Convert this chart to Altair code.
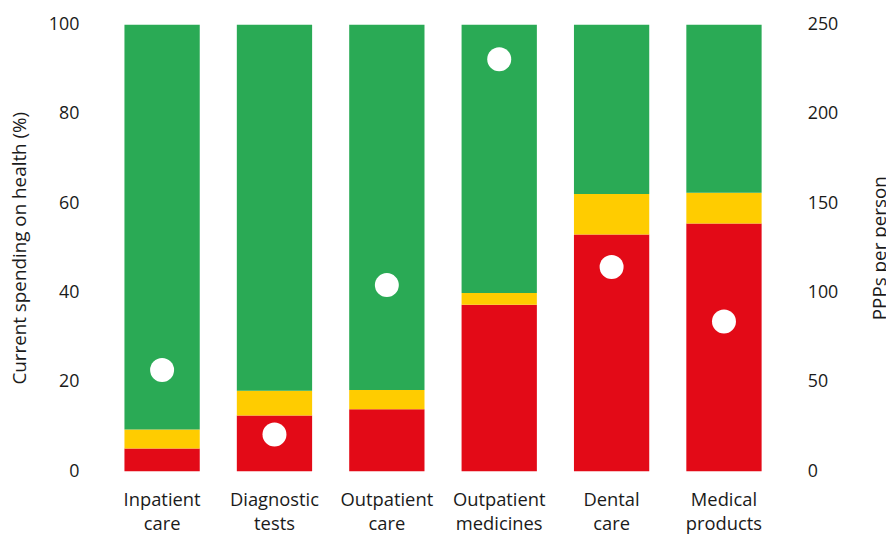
import altair as alt
import pandas as pd

categories = ["Inpatient care", "Diagnostic tests", "Outpatient care",
              "Outpatient medicines", "Dental care", "Medical products"]
red_share = [5.1, 12.45, 13.9, 37.3, 53.0, 55.5]
yellow_share = [4.25, 5.55, 4.3, 2.6, 9.1, 6.85]
green_share = [90.65, 82.0, 81.8, 60.1, 37.9, 37.65]
ppp_per_person = [56.7, 20.5, 104.2, 230.7, 114.3, 83.8]

components = ["red", "yellow", "green"]
colors = ["#E30A17", "#FFCC00", "#2AAA55"]

rows = []
for i, c in enumerate(categories):
    for k, (comp, vals) in enumerate(zip(components, [red_share, yellow_share, green_share])):
        rows.append({"category": c, "component": comp, "value": vals[i], "ord": k})
bars_df = pd.DataFrame(rows)
dots_df = pd.DataFrame({"category": categories, "ppp": ppp_per_person})

FONT = "Open Sans"
TXT = "#1a1a1a"

x_enc = alt.X(
    "category:N", sort=categories, title=None,
    scale=alt.Scale(paddingInner=0.33, paddingOuter=0.2294),
    axis=alt.Axis(labelAngle=0, ticks=False, domain=False, labelPadding=35,
                  labelBaseline="alphabetic", labelLineHeight=24,
                  labelExpr="split(datum.label, ' ')", labelFontSize=18.5,
                  labelFont=FONT, labelColor=TXT),
)

bars = alt.Chart(bars_df).mark_bar().encode(
    x=x_enc,
    y=alt.Y("value:Q", stack="zero",
            scale=alt.Scale(domain=[0, 100], nice=False),
            axis=alt.Axis(values=[0, 20, 40, 60, 80, 100], grid=False, ticks=False,
                          domain=False, labelPadding=20, labelFontSize=18,
                          labelFont=FONT, labelColor=TXT,
                          title="Current spending on health (%)",
                          titleFont=FONT, titleFontSize=19, titleFontWeight="normal",
                          titleColor=TXT, titleAngle=270, titleX=-74, titleY=225,
                          titleAlign="center", titleBaseline="alphabetic")),
    color=alt.Color("component:N", scale=alt.Scale(domain=components, range=colors),
                    legend=None),
    order=alt.Order("ord:Q"),
)

dots = alt.Chart(dots_df).mark_point(filled=True, opacity=1, color="white", size=585).encode(
    x=x_enc,
    y=alt.Y("ppp:Q", scale=alt.Scale(domain=[0, 250], nice=False),
            axis=alt.Axis(orient="right", values=[0, 50, 100, 150, 200, 250], grid=False,
                          ticks=False, domain=False, labelPadding=20, labelFontSize=18,
                          labelFont=FONT, labelColor=TXT,
                          title="PPPs per person",
                          titleFont=FONT, titleFontSize=19, titleFontWeight="normal",
                          titleColor=TXT, titleAngle=270, titleX=99, titleY=225,
                          titleAlign="center", titleBaseline="alphabetic")),
)

chart = alt.layer(bars, dots).resolve_scale(y="independent").properties(
    width=695, height=450.5,
    autosize=alt.AutoSizeParams(type="none"),
    padding={"left": 91.5, "top": 14.5, "right": 99.5, "bottom": 62},
).configure_view(stroke=None)

chart.save("out.html", embed_options={"renderer": "svg", "actions": False})
